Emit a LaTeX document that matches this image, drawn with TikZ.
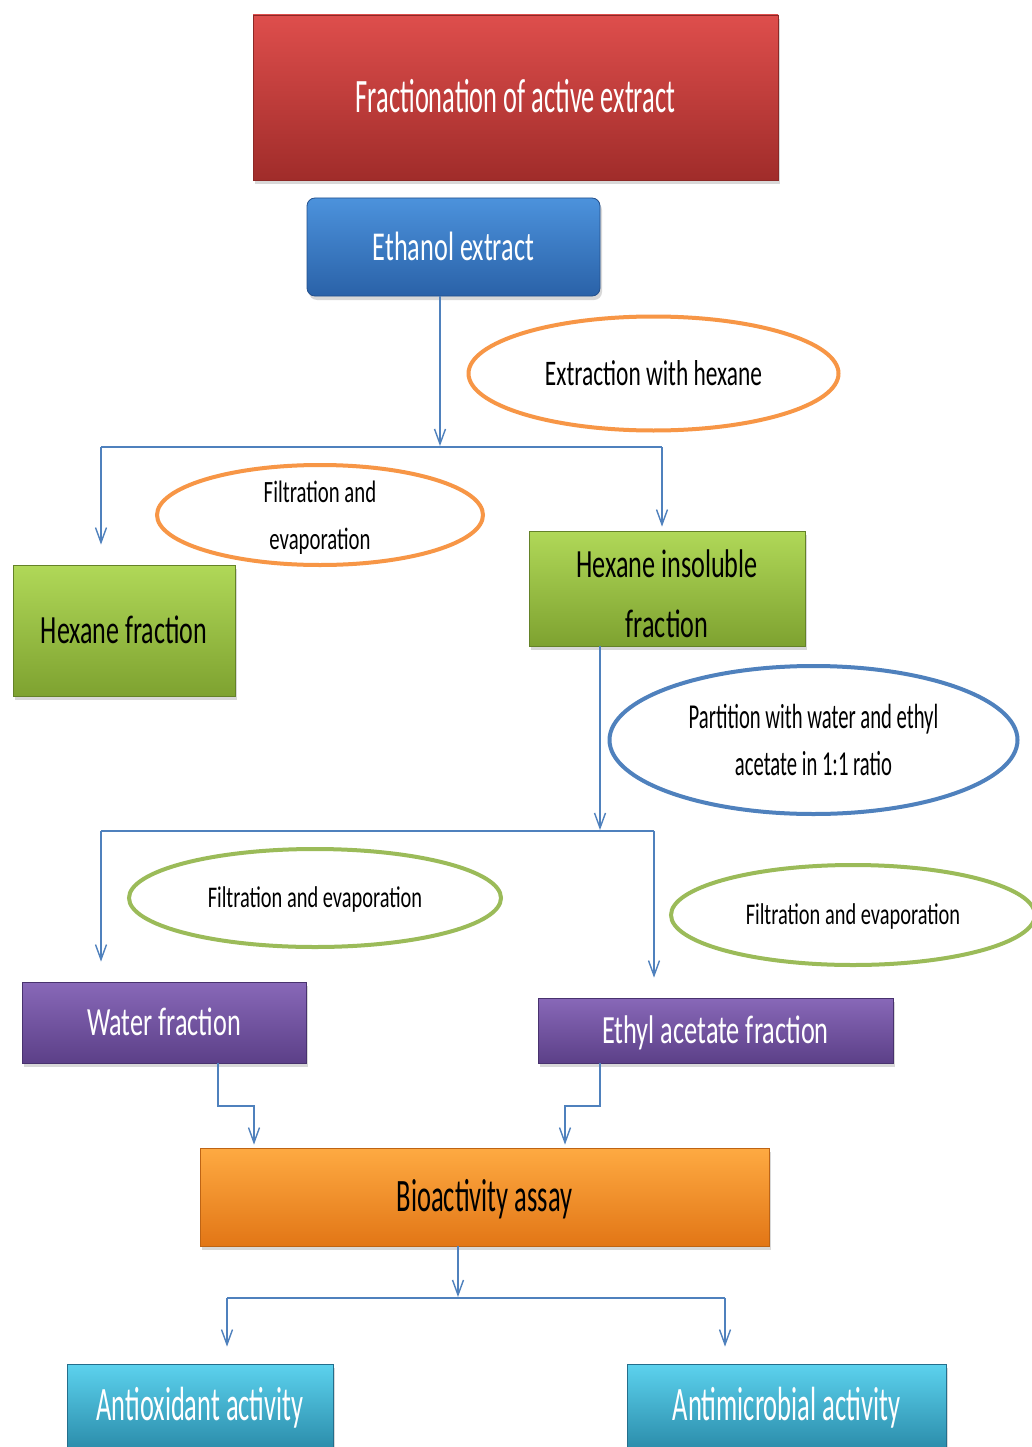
\documentclass[tikz,border=0pt]{standalone}
\usepackage{fontspec}
\setmainfont{Carlito}
\usepackage{graphicx}
\usetikzlibrary{arrows.meta,shapes.geometric,shadows}
\definecolor{ln}{RGB}{79,129,189}
\definecolor{redT}{RGB}{222,78,76}\definecolor{redB}{RGB}{160,44,42}\definecolor{redD}{RGB}{140,40,38}
\definecolor{bluT}{RGB}{76,146,220}\definecolor{bluB}{RGB}{42,98,168}\definecolor{bluD}{RGB}{36,80,140}
\definecolor{grnT}{RGB}{176,216,88}\definecolor{grnB}{RGB}{126,162,48}\definecolor{grnD}{RGB}{100,130,40}
\definecolor{purT}{RGB}{136,104,184}\definecolor{purB}{RGB}{92,64,136}\definecolor{purD}{RGB}{72,50,110}
\definecolor{orgT}{RGB}{254,170,66}\definecolor{orgB}{RGB}{226,118,22}\definecolor{orgD}{RGB}{190,100,20}
\definecolor{cyaT}{RGB}{92,210,238}\definecolor{cyaB}{RGB}{44,142,172}\definecolor{cyaD}{RGB}{36,110,140}
\definecolor{ellO}{RGB}{247,150,70}
\definecolor{ellB}{RGB}{79,129,189}
\definecolor{ellG}{RGB}{155,187,89}
% one line, horizontally squeezed, vertically centred on cap height
\newcommand\hsqq[2]{\scalebox{#1}[1]{\rule[-0.26em]{0pt}{1.164em}#2}}
% two lines, squeezed, with no height of their own (centred on the node)
\newcommand\twol[4]{\smash{\raisebox{#4}{\scalebox{#1}[1]{\begin{tabular}{@{}c@{}}#2\\#3\end{tabular}}}}}
\begin{document}
\begin{tikzpicture}[x=1pt,y=-1pt,
  box/.style={rectangle,inner sep=0pt,line width=0.8pt,
    drop shadow={opacity=0.3,shadow xshift=2pt,shadow yshift=-4pt}},
  redbox/.style={box,draw=redD,top color=redT,bottom color=redB,text=white},
  blubox/.style={box,draw=bluD,top color=bluT,bottom color=bluB,text=white,rounded corners=8pt},
  grnbox/.style={box,draw=grnD,top color=grnT,bottom color=grnB,text=black},
  purbox/.style={box,draw=purD,top color=purT,bottom color=purB,text=white},
  orgbox/.style={box,draw=orgD,top color=orgT,bottom color=orgB,text=black},
  cyabox/.style={box,draw=cyaD,top color=cyaT,bottom color=cyaB,text=white},
  ell/.style={ellipse,inner sep=0pt,line width=4pt,fill=white,text=black},
  arr/.style={draw=ln,line width=1.4pt,-{Straight Barb[length=15pt,width=11pt,line width=1.4pt]}},
  bus/.style={draw=ln,line width=2.2pt}]
\fill[white] (0,0) rectangle (1031,1447);
\useasboundingbox (0,0) rectangle (1031,1447);

% boxes
\node[redbox,minimum width=525pt,minimum height=165pt,font=\fontsize{48}{58}\selectfont] (title) at (515.5,97.5) {\hsqq{0.55}{Fractionation of active extract}};
\node[blubox,minimum width=293pt,minimum height=98pt,font=\fontsize{41}{50}\selectfont] (ethanol) at (453.5,247) {\hsqq{0.64}{Ethanol extract}};
\node[grnbox,minimum width=222pt,minimum height=131pt,font=\fontsize{40}{48}\selectfont] (hexfrac) at (124,630.5) {\hsqq{0.65}{Hexane fraction}};
\node[grnbox,minimum width=276pt,minimum height=115pt,font=\fontsize{40}{60}\selectfont] (hexins) at (667,588.5) {\twol{0.655}{Hexane insoluble}{fraction}{-0.33em}};
\node[purbox,minimum width=284pt,minimum height=81pt,font=\fontsize{40}{48}\selectfont] (water) at (164,1022.5) {\hsqq{0.655}{Water fraction}};
\node[purbox,minimum width=355pt,minimum height=65pt,font=\fontsize{40}{48}\selectfont] (ethyl) at (715.5,1030.5) {\hsqq{0.658}{Ethyl acetate fraction}};
\node[orgbox,minimum width=569pt,minimum height=98pt,font=\fontsize{46.5}{56}\selectfont] (bio) at (484.5,1197) {\hsqq{0.57}{Bioactivity assay}};
\node[cyabox,minimum width=266pt,minimum height=83pt,font=\fontsize{48}{58}\selectfont] (antiox) at (200,1405.5) {\hsqq{0.55}{Antioxidant activity}};
\node[cyabox,minimum width=319pt,minimum height=83pt,font=\fontsize{48}{58}\selectfont] (antimic) at (786.5,1405.5) {\hsqq{0.553}{Antimicrobial activity}};

% ellipses
\node[ell,draw=ellO,minimum width=370pt,minimum height=114pt,font=\fontsize{36}{44}\selectfont] (ext) at (653.5,373.5) {\hsqq{0.65}{Extraction with hexane}};
\node[ell,draw=ellO,minimum width=326pt,minimum height=100pt,font=\fontsize{31}{47}\selectfont] (filt1) at (320,515) {\twol{0.67}{Filtration and}{evaporation}{-0.25em}};
\node[ell,draw=ellB,minimum width=408pt,minimum height=148pt,font=\fontsize{35}{47}\selectfont] (part) at (813.5,740) {\twol{0.59}{Partition with water and ethyl}{acetate in 1:1 ratio}{-0.25em}};
\node[ell,draw=ellG,minimum width=372pt,minimum height=98pt,font=\fontsize{30}{40}\selectfont] (filt2) at (315,898) {\hsqq{0.68}{Filtration and evaporation}};
\node[ell,draw=ellG,minimum width=364pt,minimum height=100pt,font=\fontsize{30}{40}\selectfont] (filt3) at (853,915) {\hsqq{0.68}{Filtration and evaporation}};

% connectors: level 1
\coordinate (c1) at (440,446);
\coordinate (b1l) at (101,447);
\coordinate (b1r) at (662,447);
\draw[arr] (ethanol.south -| c1) -- (c1);
\draw[bus] (b1l) -- (b1r);
\draw[arr,shorten >=20pt] (b1l) -- (b1l |- hexfrac.north);
\draw[arr,shorten >=4pt] (b1r) -- (b1r |- hexins.north);

% level 2
\coordinate (c2) at (600,830);
\coordinate (b2l) at (101,831);
\coordinate (b2r) at (654,831);
\draw[arr] (hexins.south -| c2) -- (c2);
\draw[bus] (b2l) -- (b2r);
\draw[arr,shorten >=20pt] (b2l) -- (b2l |- water.north);
\draw[arr,shorten >=20pt] (b2r) -- (b2r |- ethyl.north);

% level 3
\coordinate (w1) at (218,1106);
\coordinate (w2) at (254,1106);
\coordinate (e1) at (600,1106);
\coordinate (e2) at (565,1106);
\draw[arr,shorten >=3pt] (water.south -| w1) -- (w1) -- (w2) -- (w2 |- bio.north);
\draw[arr,shorten >=3pt] (ethyl.south -| e1) -- (e1) -- (e2) -- (e2 |- bio.north);

% level 4
\coordinate (c3) at (458,1297);
\coordinate (b3l) at (227,1298);
\coordinate (b3r) at (725,1298);
\draw[arr] (bio.south -| c3) -- (c3);
\draw[bus] (b3l) -- (b3r);
\draw[arr,shorten >=17pt] (b3l) -- (b3l |- antiox.north);
\draw[arr,shorten >=17pt] (b3r) -- (b3r |- antimic.north);
\end{tikzpicture}
\end{document}
